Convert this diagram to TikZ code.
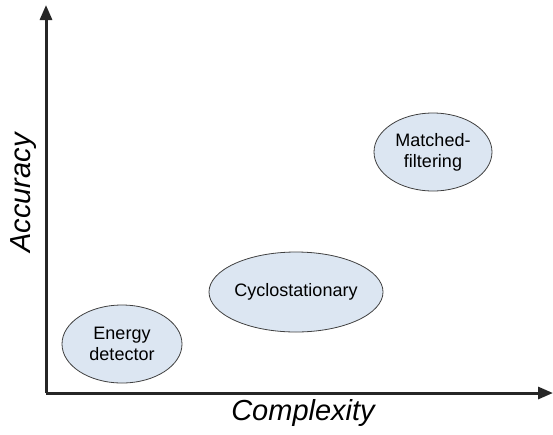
\documentclass[tikz,border=0pt]{standalone}
\usepackage{fontspec}
\setmainfont{Liberation Sans}
\usetikzlibrary{arrows.meta,shapes.geometric}
\definecolor{bubble}{HTML}{DCE6F2}
\definecolor{rim}{HTML}{404040}
\tikzset{
  axisline/.style={line width=3pt,draw=black!85,-{Triangle[length=15pt,width=12pt]}},
  bubblenode/.style={ellipse,draw=rim,line width=0.8pt,fill=bubble,inner sep=0pt,align=center,font=\fontsize{18}{21}\selectfont},
  axislabel/.style={font=\fontsize{29}{32}\selectfont\itshape}
}
\begin{document}
\begin{tikzpicture}[x=1pt,y=-1pt]
\useasboundingbox (0,0) rectangle (553,434);
\coordinate (o) at (46,393);
\coordinate (ytop) at (46,5);
\coordinate (xend) at (553,393);
\draw[axisline] (o) -- (ytop);
\draw[axisline] (o) -- (xend);
\node[axislabel,rotate=90] (acc) at (24,193) {Accuracy};
\node[axislabel] (cmp) at (303,413) {Complexity};
\node[bubblenode,minimum width=120pt,minimum height=78pt] (ed) at (122,344) {Energy\\detector};
\node[bubblenode,minimum width=160pt,minimum height=80pt] (cs) at (296,292) {Cyclostationary};
\node[bubblenode,minimum width=118pt,minimum height=78pt] (mf) at (433,152) {Matched-\\filtering};
\end{tikzpicture}
\end{document}
